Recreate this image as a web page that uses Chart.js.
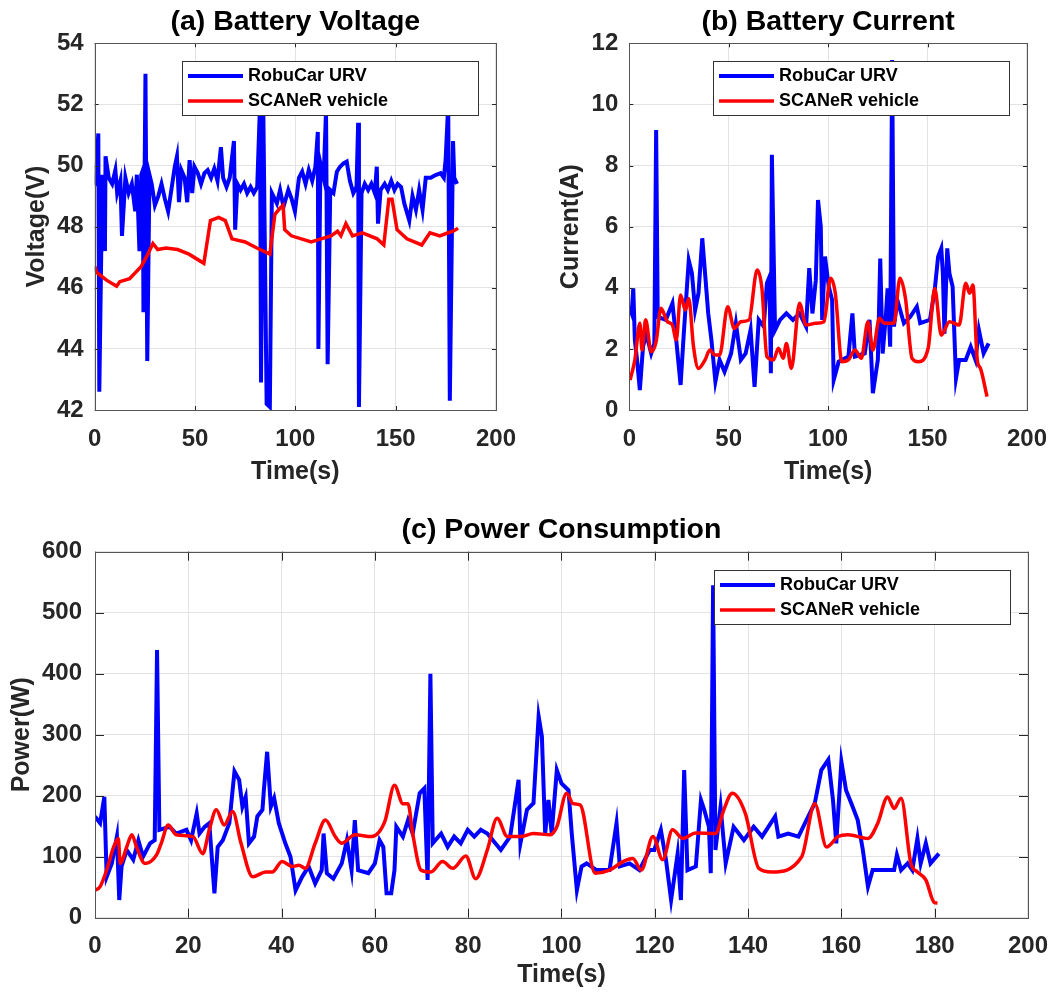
<!DOCTYPE html>
<html>
<head>
<meta charset="utf-8">
<script src="https://cdn.jsdelivr.net/npm/chart.js@4.4.0/dist/chart.umd.min.js"></script>
<style>
  html, body { margin: 0; padding: 0; background: #fff; }
  body { width: 1062px; height: 999px; position: relative; overflow: hidden; }
  canvas { position: absolute; }
</style>
</head>
<body>
<canvas id="voltChart" width="531" height="499" style="left:0;top:0"></canvas>
<canvas id="currChart" width="531" height="499" style="left:531px;top:0"></canvas>
<canvas id="powChart" width="1062" height="500" style="left:0;top:499px"></canvas>
<script>
// (a) battery voltage
const vRobuT = [0, 0.5, 1.8, 2.3, 3.8, 5.1, 5.4, 7, 8.7, 10.3,
  11.2, 12.8, 13.6, 15.3, 16.9, 18.5, 20.2, 21, 22.3, 23.2,
  24, 24.3, 25.3, 26.2, 27.3, 28.4, 30, 31.7, 33.3, 35,
  36.6, 38.2, 39.9, 41, 42, 43.2, 44.8, 46.1, 47.3, 48.6,
  49.7, 51.4, 53, 54.7, 56.3, 58, 59.6, 61.2, 62.9, 64,
  65.7, 67.3, 69.4, 70, 71.1, 72.7, 74.4, 76, 77.7, 79.3,
  81, 82.4, 82.9, 84, 85.7, 87.3, 88.3, 90.8, 92.4, 94.1,
  96.5, 98.2, 99.8, 101.8, 103.4, 105.1, 106.7, 108.4, 110, 111.2,
  111.5, 112.5, 114.1, 115.3, 116.1, 117.4, 119, 120.7, 122.3, 124,
  125.6, 127.2, 128.9, 130.5, 131.3, 131.7, 133, 134.6, 136.3, 137.9,
  139.6, 140.6, 141.2, 142.5, 144.5, 146.1, 147.8, 149.4, 151, 152.7,
  154.3, 156.8, 158.4, 160.1, 161.7, 163.4, 165, 167.5, 169.9, 172.4,
  174, 174.9, 176.2, 177, 178.6, 179.2, 180.6]
const vRobu = [49.36, 49.4, 51.05, 42.6, 49.7, 47.2, 50.3, 49.6, 49.4, 49.85,
  49.1, 49.5, 47.7, 49.6, 49.1, 49.4, 48.5, 49.7, 47.2, 49.7,
  49.85, 45.2, 53.0, 43.6, 49.7, 49.4, 48.7, 49.0, 49.4, 48.9,
  48.5, 49.2, 49.96, 50.3, 48.8, 49.85, 49.6, 48.8, 50.18, 49.1,
  49.96, 49.75, 49.4, 49.75, 49.85, 49.6, 49.9, 49.5, 50.6, 49.6,
  49.3, 49.6, 50.8, 47.9, 49.4, 49.2, 49.4, 49.1, 49.3, 49.1,
  49.3, 52.0, 42.9, 52.0, 42.2, 42.1, 49.1, 48.76, 49.2, 48.65,
  49.2, 48.9, 48.5, 49.6, 49.8, 49.4, 49.85, 49.5, 49.96, 51.1,
  44.0, 50.07, 49.6, 51.8, 43.5, 49.2, 49.1, 49.8, 49.96, 50.07,
  50.13, 49.5, 49.1, 49.3, 51.4, 42.1, 49.1, 49.4, 49.2, 49.4,
  49.1, 49.96, 48.1, 49.2, 49.4, 49.2, 49.5, 49.2, 49.4, 49.3,
  48.76, 48.2, 49.0, 48.55, 49.2, 48.55, 49.6, 49.6, 49.69, 49.75,
  49.6, 50.18, 52.0, 42.3, 50.8, 49.6, 49.4]
const vScanT = [0, 1, 5.9, 10.9, 12.5, 17.4, 23.2, 26.5, 29, 31.4,
  35.5, 41.3, 47, 54.4, 57.7, 61.8, 65.1, 68.4, 75, 80.8,
  87.3, 89.8, 92.3, 93.9, 94.7, 98, 103, 107.9, 112.8, 117.8,
  121, 122.7, 125.2, 128.5, 133.4, 140.8, 144.1, 146.6, 148.2, 150.7,
  155.6, 163, 167.1, 172, 176.2, 178.6, 181.1]
const vScan = [46.7, 46.5, 46.25, 46.05, 46.2, 46.3, 46.7, 47.1, 47.45, 47.25,
  47.3, 47.25, 47.1, 46.8, 48.2, 48.3, 48.2, 47.6, 47.5, 47.3,
  47.1, 48.4, 48.6, 48.7, 47.9, 47.7, 47.6, 47.5, 47.6, 47.7,
  47.85, 47.7, 48.1, 47.7, 47.8, 47.6, 47.4, 48.9, 48.9, 47.9,
  47.6, 47.4, 47.8, 47.7, 47.8, 47.85, 47.95]

// (b) battery current
const cRobuT = [0, 1.2, 2, 2.8, 3.9, 5.3, 6.9, 8.5, 11, 12.6,
  13.5, 14.3, 18.4, 21.7, 23.3, 25.8, 27.4, 29.9, 31.5, 33.1,
  34.8, 36.7, 38.1, 39.7, 41.3, 43.3, 45.4, 47.9, 51.2, 53.6,
  56.1, 58.5, 61, 63, 65.1, 67.6, 69.2, 70.5, 71.2, 71.7,
  73.3, 75.8, 79, 82.3, 85.6, 88.9, 90.5, 92.1, 93.8, 94.9,
  96.3, 97, 98.4, 100.3, 102, 102.8, 105.3, 110.2, 112.2, 113.5,
  118.4, 120.8, 122.5, 125, 126.2, 127.4, 129, 129.9, 131.2, 132.2,
  133.1, 134.8, 138.1, 141.3, 144.6, 146.3, 151.2, 153.6, 155.3, 156.9,
  157.7, 158.5, 159.9, 161, 162.6, 164.3, 165.9, 169.2, 171.7, 174.1,
  175.8, 178.2, 180.7]
const cRobu = [3.38, 3.16, 3.98, 2.29, 1.64, 0.65, 2.07, 2.5, 1.85, 2.18,
  9.16, 3.05, 2.95, 3.49, 2.5, 0.82, 2.5, 4.9, 4.47, 3.27,
  3.82, 5.62, 4.47, 3.16, 2.29, 0.93, 1.64, 1.25, 1.85, 2.84,
  1.64, 1.85, 2.62, 0.76, 2.95, 2.73, 4.15, 4.36, 1.2, 8.35,
  2.62, 2.95, 3.16, 2.95, 3.16, 2.73, 4.64, 3.16, 4.25, 6.87,
  6.0, 2.95, 5.02, 4.04, 3.6, 0.98, 1.58, 1.75, 3.16, 1.75,
  1.85, 2.95, 0.55, 1.64, 4.96, 1.85, 3.05, 3.98, 2.07, 11.45,
  2.73, 3.6, 2.84, 3.05, 3.38, 2.84, 2.95, 3.93, 5.02, 5.29,
  4.47, 2.5, 5.29, 4.47, 4.04, 1.04, 1.64, 1.64, 2.07, 1.64,
  2.62, 1.85, 2.18]
const cScanT = [0.4, 2.8, 5.3, 6.4, 8.2, 11, 13.5, 15.9, 19.2, 21.7,
  23.6, 25.8, 28.2, 29.9, 32.3, 34.8, 38.1, 40.5, 43, 45.4,
  49.5, 52.8, 56.1, 60.2, 64.3, 66.7, 69.2, 72.5, 75, 77.4,
  79, 81.5, 85.6, 88.9, 93.8, 97.9, 101.2, 103.6, 106.9, 110.2,
  113.5, 116.7, 120, 122.5, 125.8, 128.2, 133.1, 136.1, 138.9, 142.2,
  145.4, 150.3, 153.6, 156.9, 161, 165.9, 169.2, 171.2, 172.8, 175,
  176.6, 179.9]
const cScan = [0.98, 1.64, 2.84, 1.96, 2.95, 1.91, 2.24, 3.33, 2.89, 2.78,
  2.29, 3.76, 3.27, 3.65, 2.07, 1.36, 1.64, 1.96, 1.8, 1.8,
  3.38, 2.67, 2.89, 2.95, 4.58, 3.98, 1.75, 1.64, 2.02, 1.69,
  2.18, 1.36, 3.49, 2.78, 2.84, 2.89, 4.31, 3.82, 1.58, 1.64,
  1.96, 1.69, 2.89, 1.96, 3.0, 2.84, 2.84, 4.31, 3.65, 1.69,
  1.58, 2.02, 3.98, 2.45, 2.89, 2.78, 4.15, 3.82, 4.09, 1.64,
  1.36, 0.44]

// (c) power consumption
const pRobuT = [0, 1.1, 2, 2.5, 3.6, 4.7, 5.2, 5.7, 6.8, 8.2,
  9.3, 10.3, 11.8, 12.8, 13.3, 13.8, 16, 17.4, 19.6, 20.6,
  21.8, 22.4, 23.5, 24.5, 25.6, 26.3, 27.4, 28.8, 29.9, 30.9,
  31.6, 32.3, 33, 34.1, 34.8, 35.9, 36.2, 36.9, 37.7, 38.4,
  39.4, 40.8, 41.9, 43, 44.4, 45.8, 47.2, 48.6, 49, 49.7,
  51.1, 52.9, 54, 55, 55.7, 56.4, 58.6, 60, 61, 61.8,
  62.5, 63.5, 64.2, 64.6, 66, 67.1, 68.1, 69.6, 70.6, 71.3,
  71.9, 72.4, 74.2, 75.6, 77, 78.4, 79.9, 81.3, 82.7, 84.1,
  87, 89, 90.8, 91.2, 92.6, 94, 95.1, 95.8, 96.5, 97.2,
  97.9, 99, 100, 101.5, 102.2, 103.3, 104.3, 105.4, 107.5, 110.3,
  111.8, 112.5, 114.6, 116.7, 118.9, 119.9, 121.3, 122.4, 123.5, 124.9,
  125.6, 126.3, 127, 128.8, 129.9, 130.6, 131.6, 132, 132.5, 133,
  134.1, 135.2, 136.9, 139.1, 141.2, 143, 145.8, 146.5, 148.6, 150.8,
  152.2, 154.3, 155.7, 157.2, 158.2, 158.9, 160, 161, 162.1, 163.5,
  164.6, 165.7, 166.7, 169.2, 171.3, 171.9, 172.8, 174.2, 175.2, 176.3,
  177, 178.1, 179.1, 180.9]
const pRobu = [166, 155, 198, 67, 89, 133, 29, 84, 111, 95,
  127, 100, 122, 127, 439, 144, 149, 138, 144, 127,
  171, 138, 149, 155, 40, 116, 127, 155, 240, 226,
  182, 198, 122, 133, 166, 177, 209, 272, 182, 196,
  155, 122, 100, 45, 67, 84, 56, 78, 138, 73,
  64, 89, 127, 78, 160, 78, 73, 89, 127, 116,
  40, 40, 78, 149, 133, 160, 138, 204, 212, 62,
  400, 122, 138, 116, 133, 122, 144, 133, 144, 138,
  111, 133, 226, 122, 177, 188, 330, 297, 138, 193,
  138, 242, 220, 209, 138, 45, 84, 89, 78, 78,
  155, 84, 89, 78, 111, 111, 144, 95, 29, 105,
  29, 242, 78, 84, 193, 177, 149, 73, 545, 111,
  182, 89, 149, 127, 149, 133, 166, 133, 138, 133,
  155, 188, 242, 259, 193, 122, 256, 209, 188, 160,
  111, 51, 78, 78, 78, 103, 78, 89, 78, 130,
  89, 122, 89, 105]
const pScanT = [0, 1.1, 2.5, 4, 5, 5.4, 6.8, 7.9, 8.9, 10.7,
  13.2, 14.2, 15.7, 17.4, 21, 23.1, 24.5, 26, 27.7, 29.5,
  31.3, 33.8, 36.6, 38, 40.1, 42.3, 43.7, 45.1, 47.2, 49.4,
  51.5, 52.9, 55.7, 59.3, 62.1, 64.2, 66, 67.1, 68.1, 69.9,
  72, 74.5, 76.7, 79.5, 81.6, 84.1, 86.2, 88.4, 91.2, 94,
  97.6, 99, 101.1, 102.5, 104, 107.2, 110.3, 113.2, 115.3, 117.1,
  119.6, 121.7, 123.8, 126, 128.8, 133, 134.8, 136.6, 139.4, 142.3,
  145.1, 151.5, 154.3, 156.8, 159.3, 161.4, 165.7, 167.8, 169.9, 171.3,
  172.8, 174.9, 176.3, 178.1, 179.9, 180.6]
const pScan = [45, 51, 78, 116, 130, 89, 116, 136, 116, 89,
  103, 122, 152, 136, 133, 105, 144, 177, 152, 174,
  122, 67, 75, 75, 92, 84, 86, 81, 122, 160,
  133, 122, 136, 133, 157, 217, 187, 187, 138, 78,
  75, 92, 81, 101, 64, 111, 163, 133, 133, 138,
  136, 149, 204, 187, 185, 73, 78, 92, 97, 78,
  133, 95, 144, 130, 139, 138, 177, 204, 171, 81,
  75, 100, 187, 116, 133, 136, 130, 155, 198, 179,
  196, 89, 75, 62, 25, 24]

const seriesNames = ['RobuCar URV', 'SCANeR vehicle']
const FONT = '"Liberation Sans", Arial, Helvetica, sans-serif'
const INK = '#262626'

const pts = (xs, ys, name) => {
  if (xs.length !== ys.length) throw new Error(name + ': ' + xs.length + ' vs ' + ys.length)
  return xs.map((x, i) => ({x: x, y: ys[i]}))
}

// matlab style box, inner ticks and legend drawn over the plot
const matlabBox = {
  id: 'matlabBox',
  afterDraw(chart) {
    const {ctx, chartArea: a, scales} = chart
    const len = Math.round(0.01 * Math.max(a.right - a.left, a.bottom - a.top))
    ctx.save()
    ctx.strokeStyle = INK
    ctx.lineWidth = 1
    ctx.beginPath()
    scales.x.ticks.forEach(t => {
      const px = Math.round(scales.x.getPixelForValue(t.value)) + 0.5
      ctx.moveTo(px, a.bottom); ctx.lineTo(px, a.bottom - len)
      ctx.moveTo(px, a.top); ctx.lineTo(px, a.top + len)
    })
    scales.y.ticks.forEach(t => {
      const py = Math.round(scales.y.getPixelForValue(t.value)) + 0.5
      ctx.moveTo(a.left, py); ctx.lineTo(a.left + len, py)
      ctx.moveTo(a.right, py); ctx.lineTo(a.right - len, py)
    })
    ctx.stroke()
    ctx.strokeStyle = '#555'
    ctx.strokeRect(Math.round(a.left) + 0.5, Math.round(a.top) + 0.5,
      Math.round(a.right - a.left), Math.round(a.bottom - a.top))

    const w = 296, h = 54
    const lx = Math.round(a.right - 18 - w), ly = Math.round(a.top + 18)
    ctx.fillStyle = '#fff'
    ctx.fillRect(lx, ly, w, h)
    ctx.strokeStyle = '#333'
    ctx.strokeRect(lx + 0.5, ly + 0.5, w, h)
    ctx.font = 'bold 18px ' + FONT
    ctx.textBaseline = 'middle'
    chart.data.datasets.forEach((ds, i) => {
      const y = ly + 15 + i * 25
      ctx.strokeStyle = ds.borderColor
      ctx.lineWidth = ds.borderWidth
      ctx.beginPath(); ctx.moveTo(lx + 6, y); ctx.lineTo(lx + 61, y); ctx.stroke()
      ctx.fillStyle = '#000'
      ctx.fillText(ds.label, lx + 66, y)
    })
    ctx.restore()
  }
}

function makeChart(id, cfg) {
  return new Chart(document.getElementById(id), {
    type: 'line',
    data: {
      datasets: [{
        label: seriesNames[0],
        data: cfg.robu,
        borderColor: '#0000ff',
        borderWidth: 4,
        pointRadius: 0,
        tension: 0,
        order: 1
      }, {
        label: seriesNames[1],
        data: cfg.scan,
        borderColor: '#ff0000',
        borderWidth: 3.5,
        pointRadius: 0,
        cubicInterpolationMode: cfg.smooth ? 'monotone' : 'default',
        tension: 0,
        order: 0
      }]
    },
    options: {
      responsive: false,
      animation: false,
      layout: {padding: {left: 0, top: 0, bottom: 0, right: cfg.padRight}},
      plugins: {
        legend: {display: false},
        tooltip: {enabled: false},
        title: {
          display: true,
          text: cfg.title,
          fullSize: false,
          color: '#000',
          font: {family: FONT, size: 28.5, weight: 'bold', lineHeight: 1.2},
          padding: {top: cfg.titleTop, bottom: cfg.titleBottom}
        }
      },
      scales: {
        x: {
          type: 'linear',
          min: 0, max: 200,
          border: {display: false},
          grid: {color: '#e3e3e3', drawTicks: false},
          ticks: {stepSize: cfg.xStep, autoSkip: false, maxRotation: 0, padding: cfg.xTickPad, color: INK,
            font: {family: FONT, size: 24, weight: 'bold'}},
          title: {display: true, text: 'Time(s)', color: INK, padding: {top: 0, bottom: cfg.xTitlePad},
            font: {family: FONT, size: 25, weight: 'bold', lineHeight: 1.2}},
          afterFit: s => { s.height = cfg.xHeight }
        },
        y: {
          min: cfg.yMin, max: cfg.yMax,
          border: {display: false},
          grid: {color: '#e3e3e3', drawTicks: false},
          ticks: {stepSize: cfg.yStep, autoSkip: false, padding: cfg.yTickPad, color: INK,
            font: {family: FONT, size: 24, weight: 'bold'}},
          title: {display: true, text: cfg.yTitle, color: INK, padding: {top: cfg.yTitlePad, bottom: 0},
            font: {family: FONT, size: 25, weight: 'bold', lineHeight: 1.2}},
          afterFit: s => { s.width = cfg.yWidth }
        }
      }
    },
    plugins: [matlabBox]
  })
}

makeChart('voltChart', {
  robu: pts(vRobuT, vRobu, 'vRobu'), scan: pts(vScanT, vScan, 'vScan'), smooth: false,
  title: '(a) Battery Voltage', titleTop: 5, titleBottom: 4.1,
  yTitle: 'Voltage(V)', yMin: 42, yMax: 54, yStep: 2, xStep: 50,
  padRight: 30.3, yWidth: 94.7, xHeight: 89,
  xTickPad: 15, xTitlePad: 12, yTickPad: 11, yTitlePad: 22
})

makeChart('currChart', {
  robu: pts(cRobuT, cRobu, 'cRobu'), scan: pts(cScanT, cScan, 'cScan'), smooth: true,
  title: '(b) Battery Current', titleTop: 5, titleBottom: 4.1,
  yTitle: 'Current(A)', yMin: 0, yMax: 12, yStep: 2, xStep: 50,
  padRight: 26, yWidth: 98.3, xHeight: 89,
  xTickPad: 15, xTitlePad: 12, yTickPad: 11, yTitlePad: 25
})

makeChart('powChart', {
  robu: pts(pRobuT, pRobu, 'pRobu'), scan: pts(pScanT, pScan, 'pScan'), smooth: true,
  title: '(c) Power Consumption', titleTop: 14, titleBottom: 4.5,
  yTitle: 'Power(W)', yMin: 0, yMax: 600, yStep: 100, xStep: 20,
  padRight: 25, yWidth: 95, xHeight: 81.3,
  xTickPad: 14, xTitlePad: 9, yTickPad: 13, yTitlePad: 7
})
</script>
</body>
</html>
